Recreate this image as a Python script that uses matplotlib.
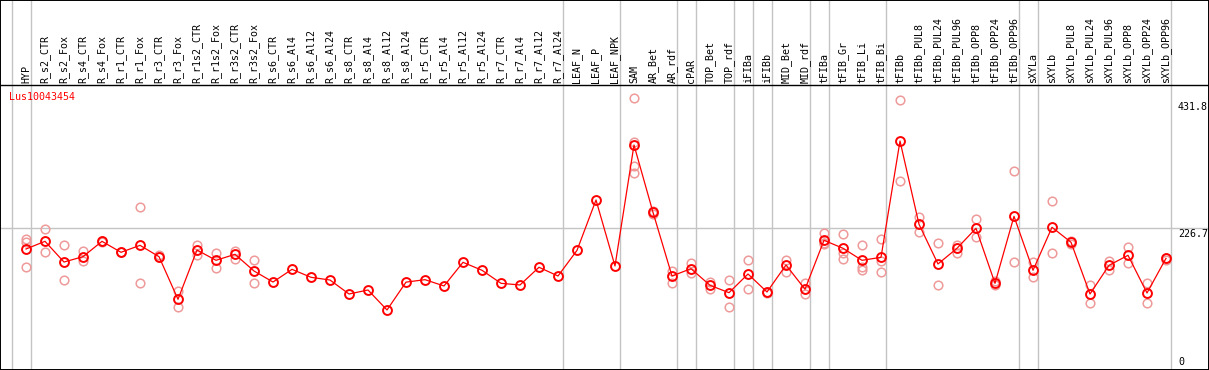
import matplotlib
matplotlib.use('Agg')
import matplotlib.pyplot as plt
import matplotlib.transforms as mtransforms

gene = 'Lus10043454'

samples = ['HYP', 'R_s2_CTR', 'R_s2_Fox', 'R_s4_CTR', 'R_s4_Fox', 'R_r1_CTR', 'R_r1_Fox',
           'R_r3_CTR', 'R_r3_Fox', 'R_r1s2_CTR', 'R_r1s2_Fox', 'R_r3s2_CTR', 'R_r3s2_Fox',
           'R_s6_CTR', 'R_s6_Al4', 'R_s6_Al12', 'R_s6_Al24', 'R_s8_CTR', 'R_s8_Al4',
           'R_s8_Al12', 'R_s8_Al24', 'R_r5_CTR', 'R_r5_Al4', 'R_r5_Al12', 'R_r5_Al24',
           'R_r7_CTR', 'R_r7_Al4', 'R_r7_Al12', 'R_r7_Al24', 'LEAF_N', 'LEAF_P', 'LEAF_NPK',
           'SAM', 'AR_Bet', 'AR_rdf', 'cPAR', 'TOP_Bet', 'TOP_rdf', 'iFIBa', 'iFIBb',
           'MID_Bet', 'MID_rdf', 'tFIBa', 'tFIB_Gr', 'tFIB_Li', 'tFIB_Bi', 'tFIBb',
           'tFIBb_PUL8', 'tFIBb_PUL24', 'tFIBb_PUL96', 'tFIBb_OPP8', 'tFIBb_OPP24',
           'tFIBb_OPP96', 'sXYLa', 'sXYLb', 'sXYLb_PUL8', 'sXYLb_PUL24', 'sXYLb_PUL96',
           'sXYLb_OPP8', 'sXYLb_OPP24', 'sXYLb_OPP96']

means = [191.6, 204.6, 169.5, 178.6, 204.6, 186.0, 197.8, 178.6, 106.3, 189.9,
         172.4, 182.6, 154.3, 135.6, 157.1, 143.6, 139.0, 115.3, 122.1, 88.2,
         135.4, 139.6, 128.9, 169.0, 155.5, 133.4, 130.6, 160.6, 145.8, 189.3,
         274.7, 162.8, 367.9, 253.8, 145.8, 158.2, 130.0, 117.5, 149.2, 118.7,
         164.5, 123.3, 206.3, 192.8, 172.4, 177.5, 374.7, 233.5, 166.2, 192.8,
         226.7, 133.4, 247.0, 155.5, 228.4, 203.0, 115.3, 163.9, 180.9, 117.0,
         175.8]

replicates = [
    [208.5, 203.0, 160.5], [225.0, 186.0], [198.4, 139.0], [188.2, 171.2],
    [205.0, 204.0], [186.0, 186.0], [262.3, 133.4], [181.4, 177.5],
    [120.4, 92.7], [198.9, 181.4], [184.3, 160.0], [188.8, 175.2],
    [172.4, 133.4], [], [], [], [], [], [], [], [], [], [], [], [], [], [], [], [],
    [], [], [],
    [447.6, 372.5, 332.8, 319.9], [256.0, 251.0], [154.8, 134.5], [168.4, 150.4],
    [135.6, 123.8], [138.5, 92.7], [172.4, 123.3], [119.5, 117.0],
    [172.9, 153.1], [133.4, 115.3], [218.7, 199.6, 201.0], [217.0, 185.3, 174.1],
    [198.4, 161.6, 156.0], [208.5, 171.2, 152.1], [443.7, 306.4], [245.8, 221.0],
    [201.3, 130.0], [197.8, 185.3], [241.9, 211.4], [136.5, 130.5],
    [323.3, 170.1], [169.0, 143.6], [272.5, 184.3], [205.7, 199.6],
    [130.0, 99.5], [171.2, 156.0], [195.0, 167.3], [133.4, 99.5], [177.0, 173.0],
]

# group separators drawn after these sample indices
group_ends = [-1, 0, 28, 31, 34, 35, 37, 38, 39, 41, 42, 45, 52, 53, 60]

y_max_label = 431.8
y_mid_label = 226.7

fig = plt.figure(figsize=(12.09, 3.70), dpi=100)
ax = fig.add_axes([0, 0, 1, 1])

# pixel layout: sample i at x = 26 + 19 i, value v at y = 362 - 0.5898 v
ax.set_xlim(-26 / 19, (1209 - 26) / 19)
ax.set_ylim((362 - 370) / 0.5898, 362 / 0.5898)
ax.set_xticks([])
ax.set_yticks([])
for s in ax.spines.values():
    s.set_linewidth(1.4)
    s.set_color('black')

mono = 'DejaVu Sans Mono'
grid = '#c4c4c4'

for g in group_ends:
    ax.axvline(g + 0.25, color=grid, lw=1, zorder=1)
ax.axhline(y_mid_label, color=grid, lw=1, zorder=1)

header_v = (362 - 85) / 0.5898
ax.axhline(header_v, color='black', lw=1, zorder=3)

x = list(range(len(samples)))
for i, reps in enumerate(replicates):
    if reps:
        ax.plot([i] * len(reps), reps, 'o', ms=6.2, mfc='none', mec='#ee9a9a',
                mew=1.1, zorder=2, clip_on=False)

ax.plot(x, means, '-', color='red', lw=0.9, zorder=4)
ax.plot(x, means, 'o', ms=6.4, mfc='none', mec='red', mew=1.4, zorder=5)

label_v = (362 - 83) / 0.5898
for i, name in enumerate(samples):
    ax.text(i, label_v, name, rotation=90, ha='center', va='bottom',
            family=mono, fontsize=7.2, color='black')

ax.text((9 - 26) / 19, (362 - 97) / 0.5898, gene, color='red', family=mono,
        fontsize=7.2, ha='left', va='center')

trans = mtransforms.blended_transform_factory(ax.transAxes, ax.transData)
rx = 1178 / 1209
ax.text(rx, y_max_label, f'{y_max_label}', transform=trans, family=mono,
        fontsize=7.2, ha='left', va='center')
ax.text(rx, y_mid_label - 1.5, f'{y_mid_label}', transform=trans, family=mono,
        fontsize=7.2, ha='left', va='top')
ax.text(rx, 0, '0', transform=trans, family=mono, fontsize=7.2, ha='left', va='center')

fig.savefig('out.png', dpi=100)
